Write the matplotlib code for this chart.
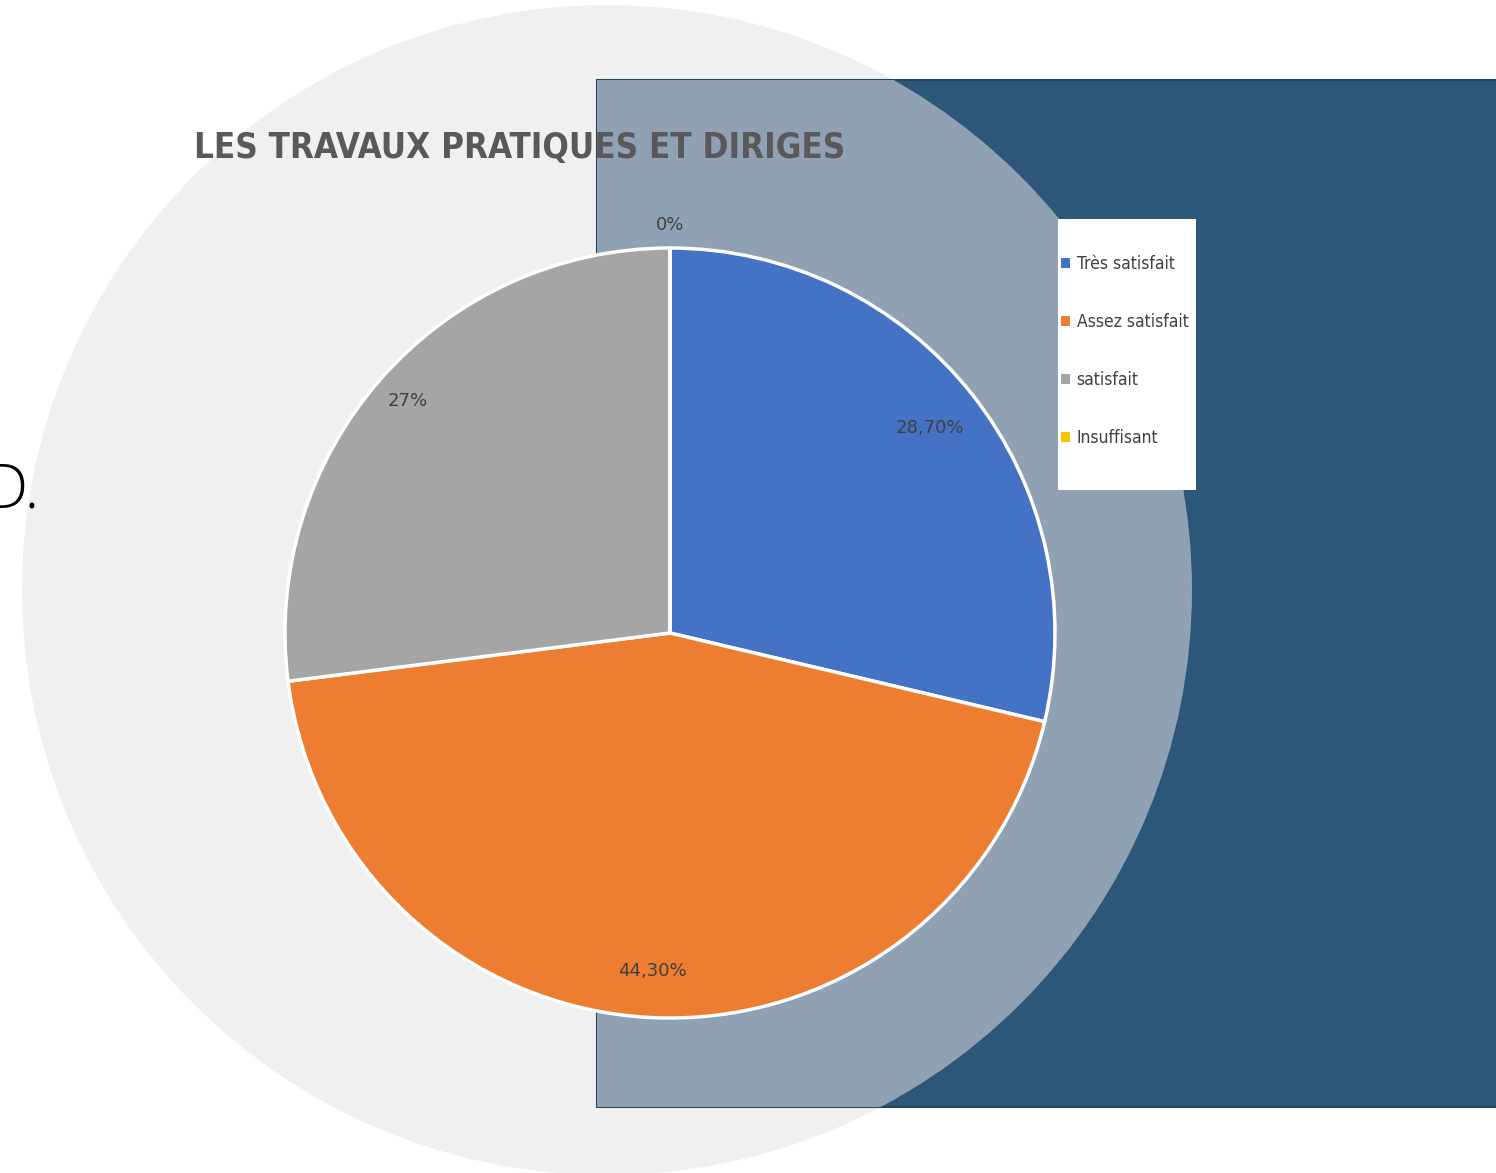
# Import libraries
import numpy as np
import matplotlib.pyplot as plt
from matplotlib.patches import Circle, Rectangle, Patch


# Data
categories = ["Très satisfait", "Assez satisfait", "satisfait", "Insuffisant"]
values = [28.7, 44.3, 27.0, 0.0]
value_labels = ["28,70%", "44,30%", "27%", "0%"]
colors = ["#4472C4", "#ED7D31", "#A5A5A5", "#FFC000"]
title = "LES TRAVAUX PRATIQUES ET DIRIGES"

# Canvas in pixel units (y up)
W, H = 1496, 1173
fig = plt.figure(figsize=(W / 100, H / 100), dpi=100)
ax = fig.add_axes([0, 0, 1, 1])
ax.set_xlim(0, W)
ax.set_ylim(0, H)
ax.set_aspect('equal')
ax.axis('off')

# --- slide background: big pale circle + dark blue panel ---
bg_c = (607, H - 590)
ax.add_patch(Circle(bg_c, 585, facecolor='#F0F0F0', edgecolor='none', zorder=0))
panel = Rectangle((597, H - 1107), 920, 1027, facecolor='#2C5778',
                  edgecolor='#24475F', lw=1.5, zorder=1)
ax.add_patch(panel)
overlap = Circle(bg_c, 585, facecolor='#8FA1B2', edgecolor='none', zorder=2)
ax.add_patch(overlap)
overlap.set_clip_path(panel)

ax.text(40, H - 507, "D.", ha='right', va='baseline', fontsize=44,
        family=['Open Sans', 'DejaVu Sans'], fontweight='light', color='black', zorder=3)

# --- pie ---
center = (670, H - 633)
radius = 385
wedges, _ = ax.pie(values, colors=colors, startangle=90, counterclock=False,
                   center=center, radius=radius, frame=True,
                   wedgeprops=dict(edgecolor='white', linewidth=2.5))
for w in wedges:
    w.set_zorder(4)
ax.set_xlim(0, W)
ax.set_ylim(0, H)
ax.axis('off')

label_dist = [0.86, 0.88, 0.91, 1.06]
for w, lab, d in zip(wedges, value_labels, label_dist):
    ang = np.deg2rad((w.theta1 + w.theta2) / 2)
    ax.text(center[0] + d * radius * np.cos(ang), center[1] + d * radius * np.sin(ang),
            lab, ha='center', va='center', fontsize=13, color='#404040', zorder=5)

# --- title ---
ax.text(520, H - 148, title, ha='center', va='center', fontsize=25, fontweight='bold',
        family=['DejaVu Sans'], fontstretch='condensed', color='#595959', zorder=5)

# --- legend (white box + frameless legend) ---
ax.add_patch(Rectangle((1058, H - 490), 138, 271, facecolor='white', edgecolor='none', zorder=6))
handles = [Patch(facecolor=c, edgecolor='none') for c in colors]
leg = fig.legend(handles, categories, loc='upper left', bbox_to_anchor=(1061 / W, 1 - 255 / H),
                 frameon=False, prop=dict(family=['DejaVu Sans'], stretch='condensed', size=12.5),
                 handlelength=0.5, handleheight=0.5, handletextpad=0.4,
                 labelspacing=2.3, borderpad=0, borderaxespad=0)
for t in leg.get_texts():
    t.set_color('#404040')
leg.set_zorder(7)

fig.savefig("out.png", dpi=100)
